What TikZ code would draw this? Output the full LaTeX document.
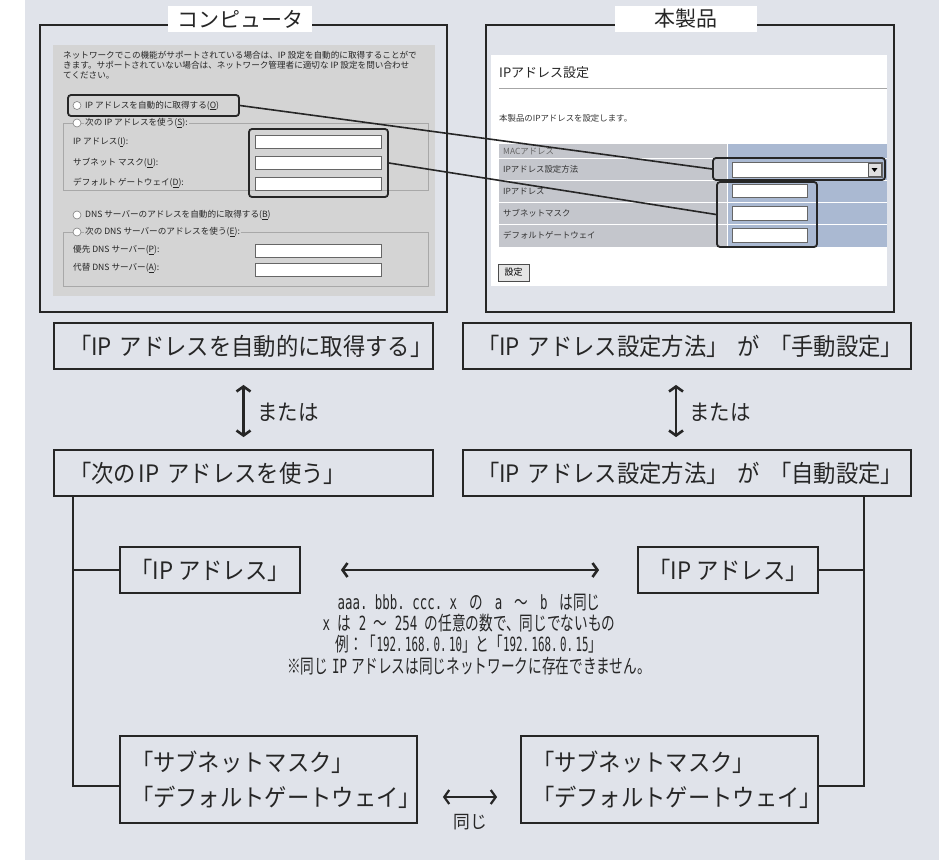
\documentclass[tikz,border=0pt]{standalone}
\usepackage{fontspec}
\setmainfont{Noto Sans CJK JP}
\newfontfamily\jpc[FakeStretch=0.70]{Noto Sans CJK JP}
\newfontfamily\jpb[FakeStretch=0.93]{Noto Sans CJK JP}
\newfontfamily\latm[FakeStretch=0.554]{DejaVu Sans Mono}
\newfontfamily\latw[FakeStretch=0.637]{DejaVu Sans Mono}
\newcommand\LM[1]{{\latm #1}}
\newcommand\LW[1]{{\latw #1}}
\newcommand\gp{\hspace{12pt}}
\usetikzlibrary{arrows.meta}
\definecolor{bg}{HTML}{E0E3EA}
\definecolor{ink}{HTML}{262626}
\definecolor{wingray}{HTML}{D4D4D4}
\definecolor{grpline}{HTML}{A8A8A8}
\definecolor{tabl}{HTML}{C4C6CC}
\definecolor{tabr}{HTML}{AAB9D2}
\tikzset{
 frame/.style={draw=ink, line width=1.8pt},
 titlebox/.style={fill=white, minimum height=26pt, inner sep=0pt, font=\fontsize{21}{24}\selectfont, text=ink},
 wtext/.style={anchor=west, inner sep=0pt, font=\fontsize{8.6}{10}\selectfont, text=black!85},
 rtext/.style={anchor=west, inner sep=0pt, font=\fontsize{8.4}{10}\selectfont, text=black!80},
 radio/.style={circle, draw=gray, fill=white, minimum size=8pt, inner sep=0pt, line width=0.6pt},
 field/.style={draw=gray!80!black, fill=white, line width=0.8pt},
 hl/.style={draw=ink, line width=1.8pt, rounded corners=3pt, inner sep=0pt},
 conn/.style={draw=ink, line width=1.6pt},
 box/.style={draw=ink, line width=1.8pt, minimum height=46pt, inner sep=0pt, font=\jpb\fontsize{24}{35}\selectfont, text=ink},
 tree/.style={draw=ink, line width=2pt},
 midtext/.style={inner sep=0pt, font=\jpc\fontsize{19.5}{21}\selectfont, text=ink},
 dblarrow/.style={draw=ink, line width=2.6pt, {Straight Barb[length=5pt,width=14pt]}-{Straight Barb[length=5pt,width=14pt]}},
}
\begin{document}
\begin{tikzpicture}[x=1pt,y=-1pt]
\useasboundingbox (0,0) rectangle (939,862);
\fill[white] (0,0) rectangle (939,862);
\fill[bg] (25,0) rectangle (939,860);

% ---------------- left: computer ----------------
\fill[wingray] (53,45) rectangle (435,296);
\node[wtext] (l1) at (63,55) {ネットワークでこの機能がサポートされている場合は、IP 設定を自動的に取得することがで};
\node[wtext] (l2) at (63,65) {きます。サポートされていない場合は、ネットワーク管理者に適切な IP 設定を問い合わせ};
\node[wtext] (l3) at (63,75) {てください。};
\node[radio] (r1) at (77,105.5) {};
\node[wtext] (r1t) at (85,105.5) {IP アドレスを自動的に取得する(\underline{O})};
% group 1
\draw[grpline, line width=0.8pt] (63,123) rectangle (428,190);
\node[radio] (r2) at (77,123) {};
\node[wtext, fill=wingray, inner xsep=1pt, inner ysep=1pt] (r2t) at (84,123) {次の IP アドレスを使う(\underline{S}):};
\node[wtext] (la1) at (73,142) {IP アドレス(\underline{I}):};
\node[wtext] (la2) at (73,163) {サブネット マスク(\underline{U}):};
\node[wtext] (la3) at (73,183) {デフォルト ゲートウェイ(\underline{D}):};
\draw[field] (255,135) rectangle (381,148);
\draw[field] (255,156) rectangle (381,169);
\draw[field] (255,177) rectangle (381,190);
% dns
\node[radio] (r3) at (77,215) {};
\node[wtext] (r3t) at (85,215) {DNS サーバーのアドレスを自動的に取得する(\underline{B})};
\draw[grpline, line width=0.8pt] (63,232) rectangle (428,286);
\node[radio] (r4) at (77,232) {};
\node[wtext, fill=wingray, inner xsep=1pt, inner ysep=1pt] (r4t) at (84,232) {次の DNS サーバーのアドレスを使う(\underline{E}):};
\node[wtext] (la4) at (73,250) {優先 DNS サーバー(\underline{P}):};
\node[wtext] (la5) at (73,268) {代替 DNS サーバー(\underline{A}):};
\draw[field] (255,244) rectangle (381,257);
\draw[field] (255,263) rectangle (381,276);
% frame
\draw[frame] (40,25) rectangle (447,312);
\node[titlebox, minimum width=144pt] (tl) at (240,19) {コンピュータ};

% ---------------- right: product ----------------
\fill[white] (491,55) rectangle (887,286);
\node[anchor=west, inner sep=0pt, font=\fontsize{13}{14}\selectfont, text=black!85] (pt) at (499,73) {IPアドレス設定};
\draw[gray!70, line width=1pt] (499,88) -- (887,88);
\node[rtext] (pd) at (499,118) {本製品のIPアドレスを設定します。};
\fill[tabl] (499,144) rectangle (727,247);
\fill[tabr] (727,144) rectangle (887,247);
\foreach \yy in {158,180,202,224} {\draw[white, line width=1pt] (499,\yy) -- (887,\yy);}
\draw[white, line width=1pt] (727,144) -- (727,247);
\node[rtext, text=black!60] (m1) at (503,151) {MACアドレス};
\node[rtext] (m2) at (503,169) {IPアドレス設定方法};
\node[rtext] (m3) at (503,191) {IPアドレス};
\node[rtext] (m4) at (503,213) {サブネットマスク};
\node[rtext] (m5) at (503,235.5) {デフォルトゲートウェイ};
\draw[field] (732,162) rectangle (882,177);
\draw[fill=gray!25, draw=gray!70!black, line width=0.6pt] (868,163.5) rectangle (881,176);
\fill[black] (871.5,168) -- (877.5,168) -- (874.5,172) -- cycle;
\draw[field] (732,184) rectangle (807,197);
\draw[field] (732,206) rectangle (807,220);
\draw[field] (732,228) rectangle (807,242);
\node[draw=gray!60!black, fill=gray!20, line width=0.8pt, minimum width=31pt, minimum height=17pt, inner sep=0pt, font=\fontsize{9}{10}\selectfont] (btn) at (513.5,272.5) {設定};
\draw[frame] (486,25) rectangle (894,312);
\node[titlebox, minimum width=142pt] (tr) at (686,19) {本製品};

% highlights and connectors
\node[hl, minimum width=171pt, minimum height=21pt] (hlr) at (153.5,105.5) {};
\node[hl, minimum width=139pt, minimum height=68pt] (hlf) at (318.5,163) {};
\node[hl, minimum width=172pt, minimum height=22pt] (hld) at (799,169) {};
\node[hl, minimum width=100pt, minimum height=65pt] (hli) at (767,214.5) {};
\draw[conn] (hlr.east) -- (hld.west);
\draw[conn] (hlf.east) -- (hli.west);

% ---------------- lower part ----------------
\node[box, minimum width=379pt, text width=349pt, align=left] (b1) at (243.5,346) {\mbox{「IP アドレスを自動的に取得する」}};
\node[box, minimum width=448pt, text width=420pt, align=left] (b2) at (687,346) {\mbox{「IP アドレス設定方法」\hspace{9pt}が\hspace{9pt}「手動設定」}};
\node[box, minimum width=379pt, text width=349pt, align=left] (b3) at (243.5,473) {\mbox{「次の\hspace{3pt}IP アドレスを使う」}};
\node[box, minimum width=448pt, text width=420pt, align=left] (b4) at (687,473) {\mbox{「IP アドレス設定方法」\hspace{9pt}が\hspace{9pt}「自動設定」}};
\draw[dblarrow, shorten <=15pt, shorten >=12pt] (b1.south) -- (b3.north);
\draw[dblarrow, shorten <=15pt, shorten >=12pt] ([xshift=-11pt]b2.south) -- ([xshift=-11pt]b4.north);
\node[anchor=west, inner sep=0pt, font=\jpb\fontsize{22}{24}\selectfont, text=ink] (o1) at (257,412) {または};
\node[anchor=west, inner sep=0pt, font=\jpb\fontsize{22}{24}\selectfont, text=ink] (o2) at (689,412) {または};

\node[box, minimum width=180pt] (ip1) at (210,570) {「IP アドレス」};
\node[box, minimum width=180pt] (ip2) at (728,570) {「IP アドレス」};
\node[box, minimum width=297pt, minimum height=87pt, text width=275pt, align=left] (sm1) at (268.5,779.5) {「サブネットマスク」\\「デフォルトゲートウェイ」};
\node[box, minimum width=297pt, minimum height=87pt, text width=275pt, align=left] (sm2) at (669.5,779.5) {「サブネットマスク」\\「デフォルトゲートウェイ」};

\coordinate (lt) at (73,496);
\coordinate (lb) at (73,786);
\coordinate (rt) at (864,496);
\coordinate (rb) at (864,786);
\draw[tree] (lt) -- (lb) -- (sm1.west |- lb);
\draw[tree] (lt |- ip1.west) -- (ip1.west);
\draw[tree] (rt) -- (rb) -- (sm2.east |- rb);
\draw[tree] (rt |- ip2.east) -- (ip2.east);

\draw[dblarrow, shorten <=40pt, shorten >=38pt] (ip1.east) -- (ip2.west);
\node[midtext] (t1) at (469,603) {\LW{aaa.\ bbb.\ ccc.\ x}\gp の\gp\LW{a}\gp ～\gp\LW{b}\gp は同じ};
\node[midtext] (t2) at (469,623) {\LW{x\ }は\LW{\ 2\ }～\LW{\ 254\ }の任意の数で、同じでないもの};
\node[midtext] (t3) at (469,644) {例：「\LM{192.\hspace{2.5pt}168.\hspace{2.5pt}0.\hspace{2.5pt}10}」と「\LM{192.\hspace{2.5pt}168.\hspace{2.5pt}0.\hspace{2.5pt}15}」};
\node[midtext] (t4) at (469,666) {※同じ\hspace{4pt}\LW{IP}\hspace{4pt}アドレスは同じネットワークに存在できません。};

\draw[dblarrow, line width=2.2pt, shorten <=25pt, shorten >=23pt] ([yshift=-17.5pt]sm1.east) -- ([yshift=-17.5pt]sm2.west);
\node[inner sep=0pt, font=\jpb\fontsize{18}{19}\selectfont, text=ink] (same) at (470,822) {同じ};
\end{tikzpicture}
\end{document}
